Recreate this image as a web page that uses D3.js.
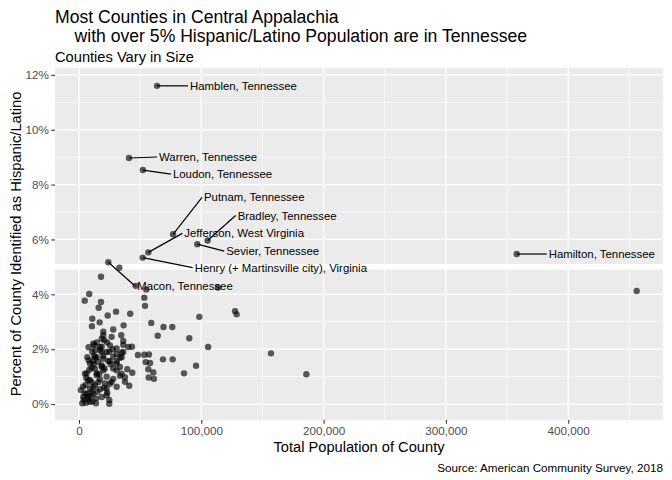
<!DOCTYPE html>
<html>
<head>
<meta charset="utf-8">
<script src="https://cdn.jsdelivr.net/npm/d3@7"></script>
<style>
  html, body { margin: 0; padding: 0; background: #fff; }
  svg { display: block; font-family: "Liberation Sans", Arial, Helvetica, sans-serif; }
</style>
</head>
<body>
<svg id="chart" width="672" height="480"></svg>
<script>
// ---- data (population in thousands, percent Hispanic/Latino) ----
const labeledNames = ["Hamblen, Tennessee", "Warren, Tennessee", "Loudon, Tennessee", "Putnam, Tennessee",
  "Bradley, Tennessee", "Jefferson, West Virginia", "Sevier, Tennessee",
  "Henry (+ Martinsville city), Virginia", "Macon, Tennessee", "Hamilton, Tennessee"];
const labeledPop = [63.8, 40.9, 52.3, 76.9, 105.2, 56.7, 96.7, 52.1, 24.0, 357.9];
const labeledPct = [11.6, 8.97, 8.53, 6.19, 5.96, 5.53, 5.83, 5.34, 5.17, 5.47];

const otherPop = [33.0, 18.0, 46.4, 55.0, 113.7, 8.4, 4.7, 18.0, 53.4, 54.0, 16.1, 30.3, 41.9, 23.5, 10.9, 98.4,
  127.6, 128.9, 16.9, 59.1, 10.6, 28.0, 36.5, 19.9, 69.1, 76.3, 26.7, 34.6, 64.4, 90.2, 14.5, 20.7, 36.2,
  12.5, 18.6, 7.9, 43.3, 105.6, 30.8, 17.2, 24.8, 10.9, 34.9, 48.2, 53.4, 57.2, 13.3, 19.9, 6.8, 28.0, 33.5,
  68.7, 76.6, 54.5, 58.1, 15.8, 24.0, 9.0, 95.7, 30.8, 10.4, 18.6, 28.0, 39.5, 43.6, 56.7, 60.8, 85.9, 14.5,
  6.3, 22.6, 33.5, 57.0, 61.3, 9.0, 17.2, 26.7, 37.6, 3.3, 13.1, 21.3, 30.8, 41.1, 4.9, 10.4, 17.2, 23.1,
  7.6, 13.9, 2.7, 5.7, 9.0, 13.9, 24.8, 1.5, 157.0, 185.9, 456.0,
  4.9, 7.6, 10.4, 9.0, 6.3, 11.7, 3.5, 7.6, 24.8, 22.6, 22.6, 18.6, 25.3, 28.0, 30.8, 34.9, 37.6, 33.5, 18.6,
  13.1, 19.9, 14.5, 15.8, 11.7,
  19.9, 18.6, 11.7, 17.2, 25.3, 36.2, 13.1, 18.6, 22.6, 30.8, 36.2, 14.5, 19.9, 34.9, 11.7, 25.3, 30.8, 40.3,
  6.0, 8.5, 12.0, 5.5, 9.5, 15.0, 20.5, 16.5, 21.0, 26.0, 12.5, 8.0, 27.5, 23.0, 4.0, 11.0];
const otherPct = [4.97, 4.64, 4.31, 4.18, 4.25, 4.01, 3.77, 3.72, 3.88, 3.58, 3.51, 3.37, 3.29, 3.23, 3.11, 3.18,
  3.39, 3.27, 2.98, 2.96, 2.84, 2.72, 2.87, 2.64, 2.81, 2.81, 2.45, 2.51, 2.49, 2.40, 2.25, 2.33, 2.30,
  2.15, 2.09, 2.07, 2.09, 2.08, 2.03, 1.97, 1.91, 1.91, 1.87, 1.79, 1.80, 1.81, 1.70, 1.75, 1.71, 1.73, 1.69,
  1.63, 1.63, 1.53, 1.50, 1.54, 1.57, 1.48, 1.40, 1.48, 1.32, 1.36, 1.30, 1.27, 1.14, 1.27, 1.15, 1.12, 1.12,
  1.12, 1.00, 1.03, 0.97, 0.92, 0.88, 0.90, 0.81, 0.81, 0.63, 0.69, 0.75, 0.63, 0.67, 0.39, 0.45, 0.54, 0.41,
  0.27, 0.21, 0.03, 0.05, 0.08, 0.03, 0.15, 0.51, 1.85, 1.09, 4.12,
  1.11, 0.86, 0.80, 0.56, 0.38, 0.38, 0.26, 0.19, 0.01, 0.56, 0.32, 0.26, 0.74, 0.92, 1.23, 1.11, 0.98, 1.35, 1.41,
  1.29, 1.23, 1.05, 0.80, 0.62,
  2.51, 2.38, 2.20, 2.08, 2.14, 2.16, 1.96, 1.90, 1.90, 1.83, 1.90, 1.71, 1.65, 1.71, 1.56, 1.56, 1.56, 2.08,
  0.95, 1.25, 1.45, 0.70, 0.30, 0.45, 0.60, 1.10, 1.30, 1.45, 1.75, 1.60, 2.00, 2.25, 0.15, 0.10];

const xTicks = [0, 100000, 200000, 300000, 400000];
const yTicks = [0, 2, 4, 6, 8, 10, 12];
const thresholdPct = 5;

// label layout offsets (pixels from point to label start), repel-style placement
const labelOffsets = [[33, 0], [30, -1], [30, 4], [31, -37], [30, -25], [36, -19], [29, 7], [52, 10], [29, 24], [32, 0]];

// ---- layout ----
const svg = d3.select("#chart");
const P = { left: 55, right: 663, top: 68, bottom: 420 };
const x = d3.scaleLinear().domain([-19600, 477500]).range([P.left, P.right]);
const y = d3.scaleLinear().domain([-0.58, 12.25]).range([P.bottom, P.top]);

svg.append("rect").attr("x", P.left).attr("y", P.top)
  .attr("width", P.right - P.left).attr("height", P.bottom - P.top).attr("fill", "#EBEBEB");

const g = svg.append("g");
// minor grid
const xMinor = [50000, 150000, 250000, 350000, 450000];
const yMinor = [1, 3, 5, 7, 9, 11];
g.selectAll(".xm").data(xMinor).enter().append("line")
  .attr("x1", d => x(d)).attr("x2", d => x(d)).attr("y1", P.top).attr("y2", P.bottom)
  .attr("stroke", "#fff").attr("stroke-width", 0.65);
g.selectAll(".ym").data(yMinor).enter().append("line")
  .attr("x1", P.left).attr("x2", P.right).attr("y1", d => y(d)).attr("y2", d => y(d))
  .attr("stroke", "#fff").attr("stroke-width", 0.65);
// major grid
g.selectAll(".xM").data(xTicks).enter().append("line")
  .attr("x1", d => x(d)).attr("x2", d => x(d)).attr("y1", P.top).attr("y2", P.bottom)
  .attr("stroke", "#fff").attr("stroke-width", 1.3);
g.selectAll(".yM").data(yTicks).enter().append("line")
  .attr("x1", P.left).attr("x2", P.right).attr("y1", d => y(d)).attr("y2", d => y(d))
  .attr("stroke", "#fff").attr("stroke-width", 1.3);

// threshold line
svg.append("line").attr("x1", P.left).attr("x2", P.right)
  .attr("y1", y(thresholdPct)).attr("y2", y(thresholdPct))
  .attr("stroke", "#fff").attr("stroke-width", 5.7);

// axes
const xAxis = d3.axisBottom(x).tickValues(xTicks).tickFormat(d3.format(",")).tickSize(3.7).tickPadding(2.5);
const yAxis = d3.axisLeft(y).tickValues(yTicks).tickFormat(d => d + "%").tickSize(3.7).tickPadding(2.5);
const xa = svg.append("g").attr("transform", `translate(0,${P.bottom})`).call(xAxis);
const ya = svg.append("g").attr("transform", `translate(${P.left},0)`).call(yAxis);
[xa, ya].forEach(a => {
  a.select(".domain").remove();
  a.selectAll(".tick line").attr("stroke", "#333").attr("stroke-width", 1.07);
  a.selectAll(".tick text").attr("fill", "#4D4D4D").style("font-size", "11.7px")
    .style("font-family", "'Liberation Sans', Arial, Helvetica, sans-serif");
});

// points
const others = otherPop.map((p, i) => ({ pop: p * 1000, pct: otherPct[i] }));
const labeled = labeledPop.map((p, i) => ({ pop: p * 1000, pct: labeledPct[i], name: labeledNames[i], off: labelOffsets[i] }));
const allPts = others.concat(labeled);

// segments
const seg = svg.append("g");
labeled.forEach(d => {
  const px = x(d.pop), py = y(d.pct);
  seg.append("line").attr("x1", px).attr("y1", py)
    .attr("x2", px + d.off[0] - 2).attr("y2", py + d.off[1])
    .attr("stroke", "#000").attr("stroke-width", 1.2);
});

svg.append("g").selectAll("circle").data(allPts).enter().append("circle")
  .attr("cx", d => x(d.pop)).attr("cy", d => y(d.pct)).attr("r", 3.2)
  .attr("fill", "#000").attr("fill-opacity", 0.64);

// labels
svg.append("g").selectAll("text").data(labeled).enter().append("text")
  .attr("x", d => x(d.pop) + d.off[0]).attr("y", d => y(d.pct) + d.off[1])
  .attr("dy", "0.35em").style("font-size", "11.4px").attr("fill", "#000")
  .text(d => d.name);

// titles
svg.append("text").attr("x", 55).attr("y", 23).style("font-size", "17.6px").text("Most Counties in Central Appalachia");
svg.append("text").attr("x", 55).attr("y", 42).style("font-size", "17.6px").attr("xml:space", "preserve")
  .text("    with over 5% Hispanic/Latino Population are in Tennessee");
svg.append("text").attr("x", 55).attr("y", 62).style("font-size", "14.67px").text("Counties Vary in Size");
svg.append("text").attr("x", (P.left + P.right) / 2).attr("y", 452).attr("text-anchor", "middle")
  .style("font-size", "14.67px").text("Total Population of County");
svg.append("text").attr("transform", `translate(21,${(P.top + P.bottom) / 2}) rotate(-90)`)
  .attr("text-anchor", "middle").style("font-size", "14.67px").text("Percent of County Identified as Hispanic/Latino");
svg.append("text").attr("x", P.right).attr("y", 472).attr("text-anchor", "end")
  .style("font-size", "11.7px").text("Source: American Community Survey, 2018");
</script>
</body>
</html>
